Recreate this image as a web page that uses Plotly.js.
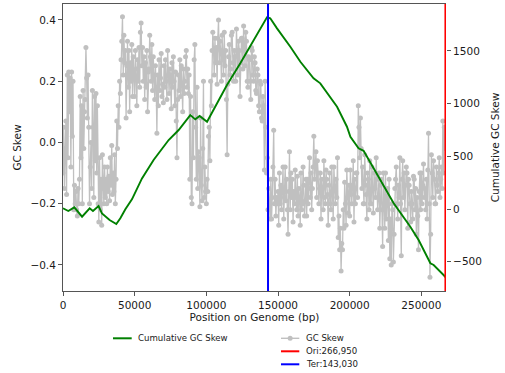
<!DOCTYPE html>
<html>
<head>
<meta charset="utf-8">
<script src="https://cdn.plot.ly/plotly-3.0.1.min.js"></script>
<style>html,body{margin:0;padding:0;background:#fff;}#chart{width:505px;height:373px;}</style>
</head>
<body>
<div id="chart"></div>
<script>
// ---- data ----
const skewStep = 500; // bp between GC skew windows
const gcSkew = [
  -0.10, 0.05, -0.15, -0.02, 0.07, -0.17, 0.22, -0.05, 0.23, 0.10,
  0.21, -0.08, 0.23, 0.02, 0.20, -0.22, -0.14, -0.20, -0.16, -0.22,
  -0.24, -0.15, -0.20, -0.12, 0.15, -0.05, 0.12, -0.20, 0.17, -0.02,
  0.10, 0.14, 0.31, 0.21, 0.08, 0.22, 0.05, -0.20, -0.08, 0.00,
  -0.15, 0.17, 0.05, -0.18, 0.15, -0.06, 0.16, -0.10, 0.12, -0.20,
  -0.26, -0.05, -0.22, -0.12, -0.27, -0.04, -0.15, -0.20, -0.08, -0.18,
  -0.12, -0.20, -0.08, -0.16, -0.11, -0.19, -0.05, -0.14, -0.01, -0.17,
  -0.10, -0.16, -0.04, -0.20, -0.12, 0.07, -0.02, 0.12, 0.05, 0.20,
  0.16, 0.27, 0.33, 0.41, 0.22, 0.35, 0.26, 0.30, 0.08, 0.25,
  0.33, 0.18, 0.30, 0.10, 0.26, 0.20, 0.32, 0.15, 0.28, 0.22,
  0.15, 0.30, 0.24, 0.12, 0.27, 0.20, 0.31, 0.18, 0.36, 0.39,
  0.25, 0.31, 0.20, 0.28, 0.14, 0.26, 0.18, 0.30, 0.10, 0.23,
  0.24, 0.35, 0.28, 0.20, 0.32, 0.17, 0.28, 0.22, 0.14, 0.25,
  0.18, 0.03, 0.22, 0.12, 0.27, 0.17, 0.21, 0.29, 0.15, 0.19,
  0.13, 0.25, 0.18, 0.27, 0.20, 0.14, 0.30, 0.22, 0.16, 0.24,
  0.22, 0.11, 0.26, 0.18, 0.28, 0.20, 0.12, 0.23, 0.07, -0.05,
  0.14, 0.22, 0.17, 0.27, 0.15, 0.25, 0.19, 0.10, 0.24, 0.16,
  0.20, 0.28, 0.30, 0.18, 0.24, 0.16, 0.22, -0.12, 0.15, -0.18,
  -0.20, 0.10, -0.05, 0.27, 0.32, 0.05, -0.12, 0.18, -0.15, -0.03,
  -0.05, -0.21, 0.08, -0.14, -0.19, -0.02, 0.20, -0.18, -0.08, -0.16,
  -0.20, -0.12, -0.16, 0.02, 0.05, -0.06, 0.20, 0.12, 0.30, 0.36,
  0.30, 0.22, 0.34, 0.26, 0.31, 0.19, 0.34, 0.40, 0.26, 0.33,
  0.30, 0.20, 0.35, 0.27, 0.22, 0.36, 0.25, 0.30, 0.14, -0.04,
  0.19, 0.28, 0.32, 0.22, 0.24, 0.35, 0.36, 0.26, 0.20, 0.30,
  0.28, 0.20, 0.37, 0.30, 0.22, 0.33, 0.30, 0.15, 0.26, 0.34,
  0.34, 0.24, 0.38, 0.30, 0.25, 0.36, 0.33, 0.20, 0.18, 0.28,
  0.27, 0.20, 0.14, 0.31, 0.30, 0.22, 0.20, 0.28, 0.26, 0.17,
  0.16, 0.24, 0.22, 0.12, 0.10, 0.20, 0.19, 0.08, 0.07, 0.15,
  0.12, -0.09, 0.20, 0.05, -0.10, -0.05, -0.22, -0.15, -0.20, -0.25,
  -0.12, -0.25, -0.18, -0.08, 0.04, -0.20, -0.12, -0.24, -0.18, -0.20,
  -0.16, -0.27, -0.10, -0.20, -0.14, -0.22, -0.15, -0.08, -0.25, -0.18,
  -0.08, -0.19, -0.12, -0.22, -0.30, -0.16, -0.03, -0.22, -0.10, -0.18,
  -0.12, -0.26, -0.16, -0.20, -0.09, -0.18, -0.22, -0.11, -0.24, -0.15,
  -0.18, -0.27, -0.10, -0.22, -0.20, -0.08, -0.14, -0.24, -0.19, -0.12,
  -0.24, -0.12, -0.20, -0.15, -0.05, -0.18, -0.10, -0.22, -0.15, -0.08,
  0.02, -0.12, -0.08, -0.03, -0.18, -0.06, -0.10, -0.20, -0.15, -0.10,
  -0.25, -0.12, -0.15, -0.22, -0.06, -0.18, -0.20, -0.09, -0.12, -0.17,
  -0.27, -0.14, -0.10, -0.20, -0.22, -0.08, -0.16, -0.25, -0.08, -0.15,
  -0.20, -0.12, -0.18, -0.05, -0.31, -0.24, -0.35, -0.28, -0.42, -0.33,
  -0.35, -0.22, -0.28, -0.13, -0.20, -0.27, -0.09, -0.18, -0.23, -0.14,
  -0.24, -0.09, -0.17, -0.20, -0.14, -0.06, -0.26, -0.12, -0.20, -0.10,
  -0.10, -0.18, 0.12, 0.05, -0.05, 0.08, -0.02, -0.15, -0.08, -0.20,
  -0.20, -0.04, -0.14, -0.17, -0.25, -0.10, -0.12, -0.22, -0.06, -0.20,
  -0.20, -0.08, -0.15, -0.23, -0.10, -0.15, -0.18, -0.05, -0.12, -0.22,
  -0.18, -0.10, -0.28, -0.14, -0.12, -0.22, -0.34, -0.10, -0.20, -0.28,
  -0.10, -0.25, -0.18, -0.15, -0.32, -0.12, -0.38, -0.25, -0.40, -0.20,
  -0.22, -0.39, -0.30, -0.15, -0.12, -0.08, -0.20, -0.25, -0.14, -0.18,
  -0.05, -0.20, -0.37, -0.12, -0.06, -0.18, -0.10, -0.22, -0.14, -0.08,
  -0.10, -0.28, -0.12, -0.14, -0.20, -0.26, -0.16, -0.20, -0.25, -0.11,
  -0.12, -0.22, -0.15, -0.30, -0.18, -0.24, -0.35, -0.16, -0.10, -0.22,
  -0.10, -0.20, -0.14, -0.07, -0.18, -0.15, -0.22, -0.12, -0.25, -0.09,
  0.03, -0.20, -0.44, -0.30, -0.04, -0.10, -0.18, -0.06, -0.12, -0.20,
  -0.20, -0.08, -0.14, -0.16, -0.10, -0.05, -0.18, -0.12, -0.08, -0.15,
  0.07, -0.10, 0.05, -0.02
];
const cumPos = [0, 3700, 7900, 13300, 18600, 20900, 24800, 27200, 32500, 37200,
  40000, 43500, 48100, 55100, 63200, 73700, 80700, 88800, 92300, 95300,
  100500, 105100, 114400, 123700, 133000, 140000, 142300, 144600, 149300, 158600,
  165600, 174800, 179500, 191200, 198100, 200500, 206200, 209700, 221400, 230700,
  242300, 248100, 256300, 258600, 265500, 266950];
const cumSkew = [7, -19, 16, -73, 7, -19, 28, -41, -104, -142,
  -88, -3, 92, 291, 465, 655, 750, 892, 851, 883,
  828, 940, 1177, 1383, 1604, 1768, 1819, 1810, 1715, 1540,
  1398, 1240, 1193, 971, 781, 686, 576, 553, 275, 54,
  -168, -294, -515, -531, -626, -648];
const ori = 266950;
const ter = 143030;
const xMax = 267200;
const names = {cum: 'Cumulative GC Skew', skew: 'GC Skew', ori: 'Ori:266,950', ter: 'Ter:143,030'};
const xTicks = [0, 50000, 100000, 150000, 200000, 250000];
const xTickText = ['0', '50000', '100000', '150000', '200000', '250000'];
const yTicks = [-0.4, -0.2, 0.0, 0.2, 0.4];
const yTickText = ['\u22120.4', '\u22120.2', '0.0', '0.2', '0.4'];
const y2Ticks = [-500, 0, 500, 1000, 1500];
const y2TickText = ['\u2212500', '0', '500', '1000', '1500'];
const yRange = [-0.485, 0.452];
const y2Range = [-778, 1946];

// ---- styles ----
const FONT = 'DejaVu Sans, Liberation Sans, sans-serif';
const TXT = '#1a1a1a';
const SPINE = '#555555';
const GRAY = '#c0c0c0';
const GREEN = '#008000';
const RED = '#ff0000';
const BLUE = '#0000ff';

const skewPos = gcSkew.map((_, i) => i * skewStep);

const traces = [
  {x: skewPos, y: gcSkew, type: 'scatter', mode: 'lines+markers', name: names.skew,
   line: {color: GRAY, width: 1.3}, marker: {color: GRAY, size: 5}, xaxis: 'x', yaxis: 'y',
   showlegend: false, hoverinfo: 'skip'},
  {x: cumPos, y: cumSkew, type: 'scatter', mode: 'lines', name: names.cum,
   line: {color: GREEN, width: 1.9}, xaxis: 'x', yaxis: 'y2', showlegend: false, hoverinfo: 'skip'}
];

const axisCommon = {
  showgrid: false, zeroline: false, showline: true, linecolor: SPINE, linewidth: 1,
  ticks: 'outside', ticklen: 4, tickwidth: 1, tickcolor: SPINE,
  tickfont: {family: FONT, size: 10.5, color: TXT}, automargin: false
};

// paper-coordinate legend helpers
const W = 505, H = 373, L = 63, R = 446, T = 4, B = 291;
const px = v => (v - L) / (R - L);
const py = v => (B - v) / (B - T);

const legendItems = [
  {name: names.cum, color: GREEN, x0: 113, x1: 131.7, tx: 137.2, y: 338.3, marker: false},
  {name: names.skew, color: GRAY, x0: 281, x1: 299.3, tx: 304.5, y: 338.3, marker: true},
  {name: names.ori, color: RED, x0: 281, x1: 299.3, tx: 304.5, y: 351.3, marker: false},
  {name: names.ter, color: BLUE, x0: 281, x1: 299.3, tx: 304.5, y: 364.3, marker: false}
];

const shapes = [
  {type: 'line', xref: 'x', yref: 'paper', x0: ter, x1: ter, y0: 0, y1: 1, line: {color: BLUE, width: 2}, layer: 'above'},
  {type: 'line', xref: 'x', yref: 'paper', x0: ori, x1: ori, y0: 0, y1: 1, line: {color: RED, width: 2.4}, layer: 'above'}
];
const annotations = [];
legendItems.forEach(it => {
  shapes.push({type: 'line', xref: 'paper', yref: 'paper', x0: px(it.x0), x1: px(it.x1), y0: py(it.y), y1: py(it.y),
    line: {color: it.color, width: it.marker ? 1.4 : 2}});
  if (it.marker) {
    const cx = (it.x0 + it.x1) / 2;
    shapes.push({type: 'circle', xref: 'paper', yref: 'paper', x0: px(cx - 2.5), x1: px(cx + 2.5),
      y0: py(it.y + 2.5), y1: py(it.y - 2.5), fillcolor: it.color, line: {width: 0}});
  }
  annotations.push({xref: 'paper', yref: 'paper', x: px(it.tx), y: py(it.y), xanchor: 'left', yanchor: 'middle',
    text: it.name, showarrow: false, font: {family: FONT, size: 8.6, color: TXT}, borderpad: 0});
});

const layout = {
  width: W, height: H,
  margin: {l: L, r: W - R, t: T, b: H - B, pad: 0},
  paper_bgcolor: '#ffffff', plot_bgcolor: '#ffffff',
  font: {family: FONT, color: TXT},
  showlegend: false,
  xaxis: Object.assign({}, axisCommon, {range: [0, xMax], tickvals: xTicks, ticktext: xTickText,
    mirror: true, title: {text: 'Position on Genome (bp)', font: {family: FONT, size: 10.5, color: TXT}, standoff: 4}}),
  yaxis: Object.assign({}, axisCommon, {range: yRange, tickvals: yTicks, ticktext: yTickText,
    title: {text: 'GC Skew', font: {family: FONT, size: 10.5, color: TXT}, standoff: 6}}),
  yaxis2: Object.assign({}, axisCommon, {range: y2Range, tickvals: y2Ticks, ticktext: y2TickText,
    overlaying: 'y', side: 'right', showline: false,
    title: {text: 'Cumulative GC Skew', font: {family: FONT, size: 10.5, color: TXT}, standoff: 10}}),
  shapes: shapes,
  annotations: annotations
};

Plotly.newPlot('chart', traces, layout, {staticPlot: true, displayModeBar: false});
</script>
</body>
</html>
